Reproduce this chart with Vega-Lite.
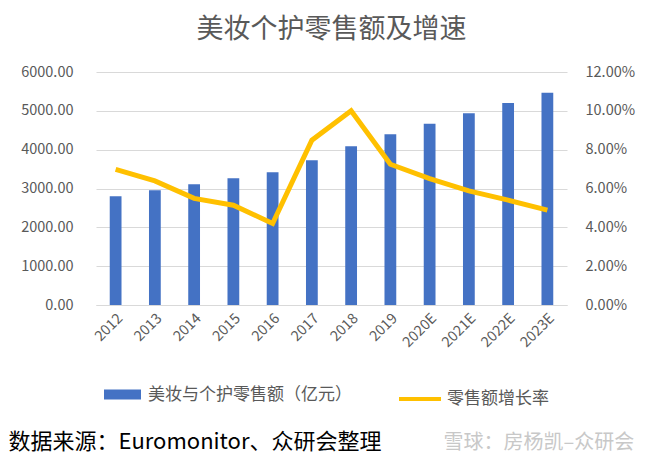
{
  "$schema": "https://vega.github.io/schema/vega-lite/v6.json",
  "width": 471,
  "height": 233,
  "autosize": {"type": "none"},
  "padding": {"left": 96, "top": 72, "right": 80, "bottom": 159},
  "background": "white",
  "config": {
    "font": "Noto Sans CJK SC",
    "view": {"stroke": null},
    "axis": {"labelFont": "Noto Sans CJK SC", "labelColor": "#595959", "labelFontSize": 14.5, "titleFont": "Noto Sans CJK SC"},
    "legend": {"labelFont": "Noto Sans CJK SC", "labelColor": "#595959", "labelFontSize": 17, "labelLimit": 400}
  },
  "title": {
    "text": "美妆个护零售额及增速",
    "fontSize": 27,
    "fontWeight": "normal",
    "color": "#595959",
    "anchor": "middle",
    "offset": 20
  },
  "data": {
    "values": [
      {"year": "2012", "sales": 2802, "growth": 0.0698},
      {"year": "2013", "sales": 2956, "growth": 0.0639},
      {"year": "2014", "sales": 3110, "growth": 0.0549},
      {"year": "2015", "sales": 3264, "growth": 0.0514},
      {"year": "2016", "sales": 3419, "growth": 0.0420},
      {"year": "2017", "sales": 3728, "growth": 0.0849},
      {"year": "2018", "sales": 4088, "growth": 0.1000},
      {"year": "2019", "sales": 4396, "growth": 0.0725},
      {"year": "2020E", "sales": 4670, "growth": 0.0651},
      {"year": "2021E", "sales": 4936, "growth": 0.0588},
      {"year": "2022E", "sales": 5200, "growth": 0.0540},
      {"year": "2023E", "sales": 5467, "growth": 0.0489}
    ]
  },
  "encoding": {
    "x": {
      "field": "year",
      "type": "ordinal",
      "sort": null,
      "scale": {"paddingInner": 0.7, "paddingOuter": 0.35},
      "axis": {
        "title": "数据来源：Euromonitor、众研会整理",
        "titleFontSize": 22,
        "titleFontWeight": "normal",
        "titleColor": "#000000",
        "titleAnchor": "start",
        "titleAlign": "left",
        "titleBaseline": "alphabetic",
        "titleX": -88,
        "titleY": 143,
        "labelAngle": -45,
        "labelOverlap": false,
        "ticks": false,
        "domain": true,
        "domainColor": "#D9D9D9",
        "domainWidth": 1,
        "labelPadding": 6
      }
    }
  },
  "layer": [
    {
      "mark": {"type": "bar", "color": "#4472C4"},
      "encoding": {
        "y": {
          "field": "sales",
          "type": "quantitative",
          "scale": {"domain": [0, 6000]},
          "axis": {
            "title": null,
            "format": ".2f",
            "values": [0, 1000, 2000, 3000, 4000, 5000, 6000],
            "labelOverlap": false,
            "grid": true,
            "gridColor": "#D9D9D9",
            "domain": false,
            "ticks": false,
            "labelPadding": 23
          }
        },
        "fill": {
          "datum": "美妆与个护零售额（亿元）",
          "type": "nominal",
          "scale": {"range": ["#4472C4"]},
          "legend": {
            "title": null,
            "orient": "none",
            "legendX": 8,
            "legendY": 304,
            "symbolType": "M-1,-0.27H1V0.27H-1Z",
            "symbolSize": 1369,
            "symbolStrokeWidth": 0,
            "labelOffset": 7
          }
        }
      }
    },
    {
      "mark": {"type": "line", "color": "#FFC000", "strokeWidth": 5},
      "encoding": {
        "y": {
          "field": "growth",
          "type": "quantitative",
          "scale": {"domain": [0, 0.12]},
          "axis": {
            "orient": "right",
            "format": ".2%",
            "values": [0, 0.02, 0.04, 0.06, 0.08, 0.1, 0.12],
            "labelOverlap": false,
            "grid": false,
            "domain": false,
            "ticks": false,
            "labelPadding": 18,
            "title": "雪球：房杨凯–众研会",
            "titleAngle": 0,
            "titleFontSize": 20,
            "titleFontWeight": "normal",
            "titleColor": "#C8C8C8",
            "titleAlign": "left",
            "titleBaseline": "alphabetic",
            "titleX": -124,
            "titleY": 376
          }
        },
        "stroke": {
          "datum": "零售额增长率",
          "type": "nominal",
          "scale": {"range": ["#FFC000"]},
          "legend": {
            "title": null,
            "orient": "none",
            "legendX": 301,
            "legendY": 304,
            "symbolType": "stroke",
            "symbolSize": 1764,
            "symbolStrokeWidth": 4,
            "labelOffset": 4
          }
        }
      }
    }
  ],
  "resolve": {"scale": {"y": "independent", "fill": "independent", "stroke": "independent"}}
}
